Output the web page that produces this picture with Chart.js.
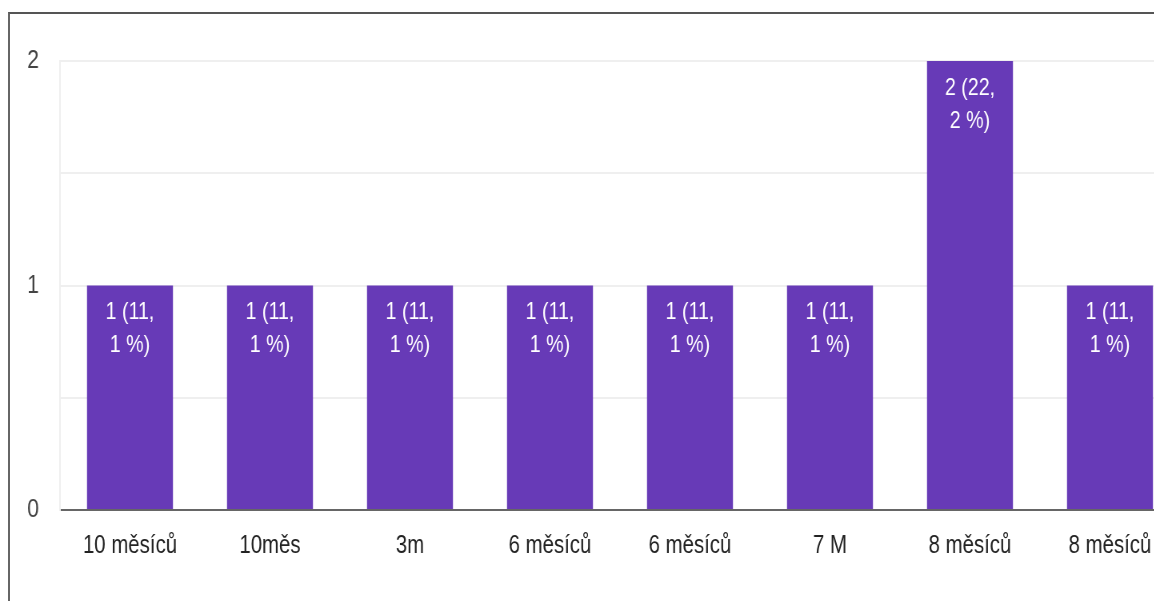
<!DOCTYPE html>
<html>
<head>
<meta charset="utf-8">
<script src="https://cdn.jsdelivr.net/npm/chart.js@4"></script>
<style>
  html, body { margin: 0; padding: 0; background: #fff; overflow: hidden; width: 1154px; height: 601px; }
  #wrap { position: absolute; left: 0; top: 0; width: 1154px; height: 601px; overflow: hidden; }
  #c { position: absolute; left: 0; top: 0; }
  #frame { position: absolute; left: 8px; top: 12px; width: 1200px; height: 700px;
           border-top: 2px solid #555; border-left: 2px solid #666; pointer-events: none; }
</style>
</head>
<body>
<div id="wrap">
  <canvas id="c"></canvas>
  <div id="frame"></div>
</div>
<script>
const categories = ["10 měsíců", "10měs", "3m", "6 měsíců", "6 měsíců", "7 M", "8 měsíců", "8 měsíců"];
const counts = [1, 1, 1, 1, 1, 1, 2, 1];
const valueLabels = [
  ["1 (11,", "1 %)"], ["1 (11,", "1 %)"], ["1 (11,", "1 %)"], ["1 (11,", "1 %)"],
  ["1 (11,", "1 %)"], ["1 (11,", "1 %)"], ["2 (22,", "2 %)"], ["1 (11,", "1 %)"]
];
const yTickLabels = ["0", "1", "2"];

// Horizontal condensation factor (reference text is narrow / condensed)
const SX = 0.8;
const CSS_W = 1180, CSS_H = 601;
const canvas = document.getElementById('c');
canvas.width = Math.round(CSS_W / SX);
canvas.height = CSS_H;
canvas.style.width = CSS_W + 'px';
canvas.style.height = CSS_H + 'px';

const FONT = "'Liberation Sans', Arial, sans-serif";

const barLabelPlugin = {
  id: 'barLabels',
  afterDatasetsDraw(chart) {
    const ctx = chart.ctx;
    const meta = chart.getDatasetMeta(0);
    ctx.save();
    ctx.fillStyle = '#ffffff';
    ctx.font = '24.5px ' + FONT;
    ctx.textAlign = 'center';
    ctx.textBaseline = 'middle';
    meta.data.forEach((bar, i) => {
      valueLabels[i].forEach((t, j) => {
        ctx.fillText(t, bar.x, bar.y + 27 + j * 33);
      });
    });
    ctx.restore();
  }
};

new Chart(canvas, {
  type: 'bar',
  data: {
    labels: categories,
    datasets: [{
      data: counts,
      backgroundColor: '#673ab7',
      borderWidth: 0,
      categoryPercentage: 1.0,
      barPercentage: 0.614
    }]
  },
  options: {
    responsive: false,
    animation: false,
    devicePixelRatio: 1,
    layout: { padding: { top: 61, right: 0, bottom: 0, left: 0 } },
    plugins: { legend: { display: false }, tooltip: { enabled: false } },
    scales: {
      x: {
        grid: { display: false },
        border: { display: true, color: '#666', width: 2 },
        ticks: { color: '#222', font: { family: FONT, size: 25.5 }, padding: 13, maxRotation: 0, autoSkip: false },
        afterFit(s) { s.height = 91; }
      },
      y: {
        min: 0, max: 2,
        grid: { color: '#efefef', lineWidth: 2, drawTicks: false },
        border: { display: true, color: '#efefef', width: 2 },
        ticks: {
          stepSize: 0.5,
          padding: 21 / SX,
          color: '#444',
          font: { family: FONT, size: 26.5 },
          callback(v) { return Number.isInteger(v) ? yTickLabels[yTickLabels.indexOf(String(v))] : ''; }
        },
        afterFit(s) { s.width = 60 / SX; }
      }
    }
  },
  plugins: [barLabelPlugin]
});
</script>
</body>
</html>
